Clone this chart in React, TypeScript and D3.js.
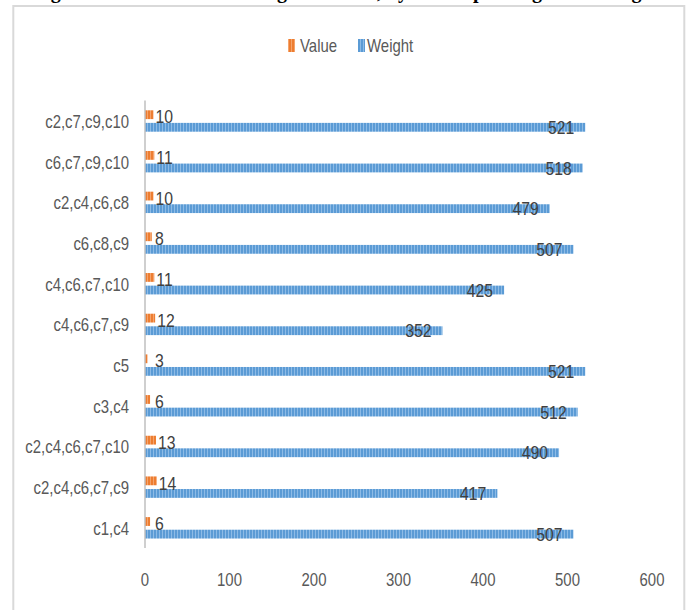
import React from "react";
import * as d3 from "d3";

const categories = [
  "c2,c7,c9,c10",
  "c6,c7,c9,c10",
  "c2,c4,c6,c8",
  "c6,c8,c9",
  "c4,c6,c7,c10",
  "c4,c6,c7,c9",
  "c5",
  "c3,c4",
  "c2,c4,c6,c7,c10",
  "c2,c4,c6,c7,c9",
  "c1,c4",
];
const valueSeries = [10, 11, 10, 8, 11, 12, 3, 6, 13, 14, 6];
const weightSeries = [521, 518, 479, 507, 425, 352, 521, 512, 490, 417, 507];
const seriesNames = ["Value", "Weight"];
const xTicks = [0, 100, 200, 300, 400, 500, 600];
const titleText = "Figure 7: The Value and Weight of items, by the set pruning and the algorithm";

const W = 691;
const H = 610;
const FONT = "'Liberation Sans', Arial, sans-serif";
const LABEL = "#595959";
const DARK = "#404040";
const SX = 0.83;

type TProps = {
  x: number;
  y: number;
  size: number;
  fill: string;
  anchor?: "start" | "middle" | "end";
  children: React.ReactNode;
};

function NText({ x, y, size, fill, anchor = "start", children }: TProps) {
  return (
    <text
      transform={`translate(${x},${y}) scale(${SX},1)`}
      fontFamily={FONT}
      fontSize={size}
      fill={fill}
      textAnchor={anchor}
      dominantBaseline="central"
    >
      {children}
    </text>
  );
}

export default function App() {
  const x = d3.scaleLinear().domain([0, 600]).range([145, 652]);
  const y = d3.scaleBand<string>().domain(categories).range([100.5, 548]).padding(0);
  const inner = d3
    .scaleBand<string>()
    .domain(seriesNames)
    .range([9.8, 31.2])
    .paddingInner(0.3)
    .paddingOuter(0);
  const bw = inner.bandwidth();
  const x0 = x(0);

  return (
    <div style={{ position: "absolute", left: 0, top: 0 }}>
      <svg width={W} height={H} style={{ display: "block", overflow: "hidden" }}>
        <defs>
          <pattern id="pBlue" width={3} height={10} patternUnits="userSpaceOnUse">
            <rect width={3} height={10} fill="#5B9BD5" />
            <rect width={1} height={10} fill="#8DBBE6" />
          </pattern>
          <pattern id="pOrange" width={3} height={10} patternUnits="userSpaceOnUse">
            <rect width={3} height={10} fill="#ED7D31" />
            <rect width={1} height={10} fill="#F5A46C" />
          </pattern>
        </defs>
        <rect x={0} y={0} width={W} height={H} fill="#fff" />
        <text
          x={33}
          y={-2}
          fontFamily="'Liberation Serif', serif"
          fontWeight="bold"
          fontSize={20}
          fill="#000"
        >
          {titleText}
        </text>
        <rect x={13.3} y={6} width={671} height={620} fill="#fff" stroke="#D9D9D9" strokeWidth={2} />

        {/* legend */}
        <rect x={288} y={39} width={7} height={13} fill="url(#pOrange)" />
        <NText x={300} y={46} size={18} fill={LABEL}>{seriesNames[0]}</NText>
        <rect x={358} y={39} width={7} height={13} fill="url(#pBlue)" />
        <NText x={367} y={46} size={18} fill={LABEL}>{seriesNames[1]}</NText>

        {/* bars */}
        {categories.map((c, i) => {
          const b = y(c)!;
          const vy = b + inner("Value")!;
          const wy = b + inner("Weight")!;
          return (
            <g key={c}>
              <rect x={x0} y={wy} width={x(weightSeries[i]) - x0} height={bw} fill="url(#pBlue)" />
              <rect x={x0} y={vy} width={x(valueSeries[i]) - x0} height={bw} fill="url(#pOrange)" />
            </g>
          );
        })}

        {/* axis line */}
        <line x1={x0} x2={x0} y1={y.range()[0]} y2={y.range()[1]} stroke="#BFBFBF" strokeWidth={1.5} />

        {/* category labels */}
        {categories.map((c) => (
          <NText key={c} x={129} y={y(c)! + y.bandwidth() / 2 + 1} size={18} fill={LABEL} anchor="end">
            {c}
          </NText>
        ))}

        {/* data labels */}
        {categories.map((c, i) => {
          const b = y(c)!;
          const center = b + y.bandwidth() / 2;
          const wy = b + inner("Weight")! + bw / 2;
          return (
            <g key={c}>
              <NText x={Math.max(x(valueSeries[i]) + 2, x0 + 10)} y={center - 4} size={19} fill={DARK}>
                {valueSeries[i]}
              </NText>
              <NText x={x(weightSeries[i]) - 11} y={wy} size={19} fill={DARK} anchor="end">
                {weightSeries[i]}
              </NText>
            </g>
          );
        })}

        {/* x tick labels */}
        {xTicks.map((t) => (
          <NText key={t} x={x(t)} y={580} size={18} fill={LABEL} anchor="middle">
            {t}
          </NText>
        ))}
      </svg>
    </div>
  );
}
